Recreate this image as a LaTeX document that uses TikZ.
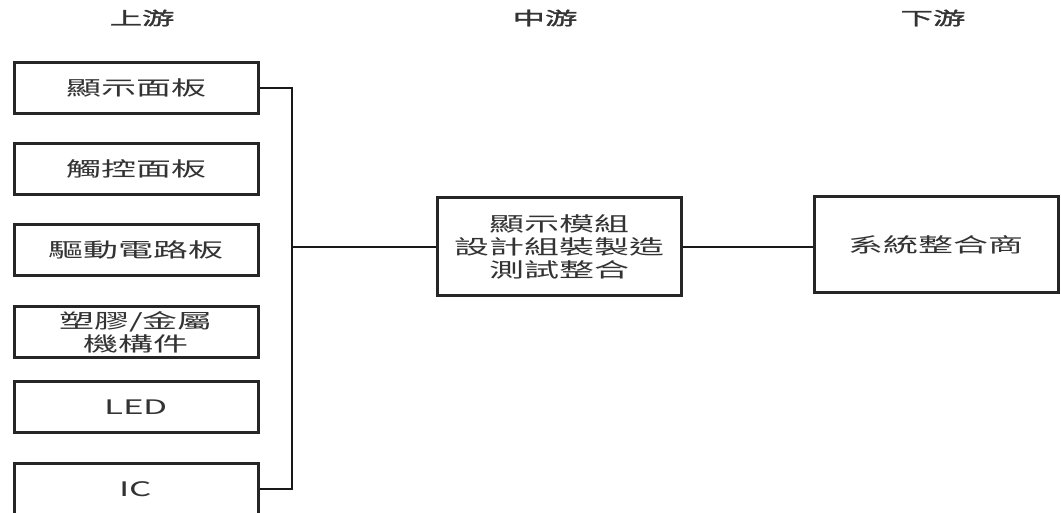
\documentclass[tikz,border=0pt]{standalone}
\usepackage{fontspec}
\usepackage{xcolor}
\usepackage{tikz}
\newfontfamily\cjk[FakeStretch=1.75]{Noto Sans CJK TC}
\newfontfamily\cjkhead[FakeStretch=1.8,FakeBold=1.5]{Noto Sans CJK TC}
\definecolor{ink}{HTML}{333333}

\begin{document}
\begin{tikzpicture}[x=1pt,y=-1pt,
    chainbox/.style={draw=black!85,line width=3pt,fill=white,minimum width=244pt,inner sep=0pt,align=center,text=ink,font=\cjk\fontsize{20}{23}\selectfont},
    stagehead/.style={text=ink,font=\cjkhead\fontsize{18}{20}\selectfont},
    wire/.style={draw=black!90,line width=2.5pt}]
  \useasboundingbox (0,0) rectangle (1061,513);

  % stage titles
  \node[stagehead] (up) at (142,18) {上游};
  \node[stagehead] (mid) at (545,18) {中游};
  \node[stagehead] (down) at (933,18) {下游};

  % upstream parts
  \node[chainbox,minimum height=51pt] (panel) at (136,88) {顯示面板};
  \node[chainbox,minimum height=51pt] (touch) at (136,169) {觸控面板};
  \node[chainbox,minimum height=51pt] (driver) at (136,250) {驅動電路板};
  \node[chainbox,minimum height=51pt] (mech) at (136,332) {塑膠/金屬\\機構件};
  \node[chainbox,minimum height=51pt] (led) at (136,407) {LED};
  \node[chainbox,minimum height=51pt] (ic) at (136,489) {IC};

  % midstream and downstream
  \node[chainbox,minimum height=98pt] (module) at (559,247) {顯示模組\\設計組裝製造\\測試整合};
  \node[chainbox,minimum height=96pt] (integrator) at (936,245) {系統整合商};

  \coordinate (bus) at (292,247);
  \draw[wire] (panel.east) -| (bus) |- (ic.east);
  \draw[wire,line width=2pt] (bus) -- (module.west);
  \draw[wire,line width=2pt] (module.east) -- (integrator.west |- module.east);
\end{tikzpicture}
\end{document}
